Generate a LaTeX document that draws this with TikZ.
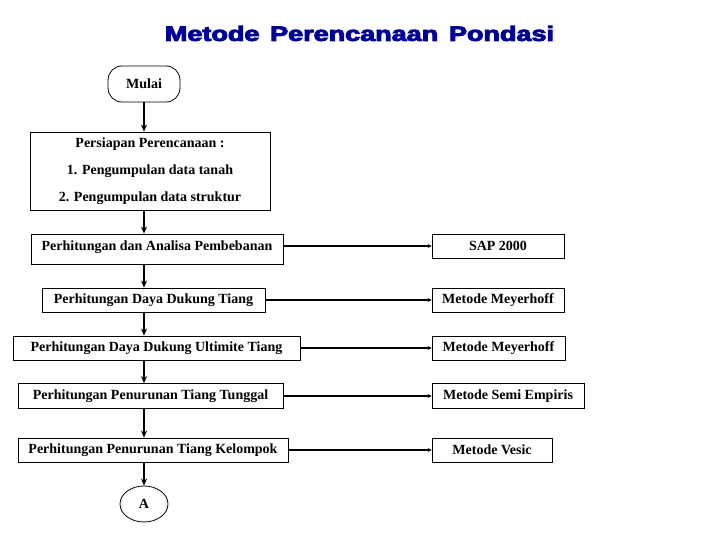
\documentclass[tikz,border=0pt]{standalone}
\usepackage{fontspec}
\usepackage{graphicx}
\setmainfont{Liberation Serif}
\newfontfamily\titlefont[FakeBold=4]{Liberation Sans}
\usetikzlibrary{arrows.meta,shapes.geometric}
\definecolor{titleblue}{RGB}{0,0,153}
\tikzset{
  box/.style={draw, line width=0.8pt, inner sep=0pt, font=\bfseries\fontsize{14}{16}\selectfont},
  vert/.style={line width=1.4pt, -{Stealth[length=7pt,width=6pt]}},
  horz/.style={line width=1.4pt, -{Stealth[length=4pt,width=4pt]}},
}
\begin{document}
\begin{tikzpicture}[x=1pt,y=-1pt]
\useasboundingbox (0,0) rectangle (720,540);
\node[text=titleblue, inner sep=0pt] (title) at (359.5,33.5) {\resizebox{389pt}{15pt}{\titlefont\bfseries Metode\hspace{0.4em}Perencanaan\hspace{0.4em}Pondasi}};
\node[box, rounded corners=14pt, minimum width=72pt, minimum height=36pt] (mulai) at (144,84) {Mulai};
\node[box, minimum width=240pt, minimum height=78pt, align=center, font=\bfseries\fontsize{14}{27}\selectfont] (persiapan) at (150,171) {Persiapan Perencanaan :\\1. Pengumpulan data tanah\\2. Pengumpulan data struktur};
\node[box, minimum width=252pt, minimum height=30pt, text depth=6pt] (analisa) at (157,249) {Perhitungan dan Analisa Pembebanan};
\node[box, minimum width=132pt, minimum height=24pt] (sap) at (498,246) {SAP 2000};
\node[box, minimum width=223pt, minimum height=24pt] (daya) at (153.5,300) {Perhitungan Daya Dukung Tiang};
\node[box, minimum width=132pt, minimum height=24pt] (mey1) at (498,300) {Metode Meyerhoff};
\node[box, minimum width=287pt, minimum height=24pt] (ult) at (156.5,348) {Perhitungan Daya Dukung Ultimite Tiang};
\node[box, minimum width=133pt, minimum height=24pt] (mey2) at (498.5,348) {Metode Meyerhoff};
\node[box, minimum width=265pt, minimum height=25pt] (tung) at (150.5,396) {Perhitungan Penurunan Tiang Tunggal};
\node[box, minimum width=152pt, minimum height=25pt] (semi) at (508,396) {Metode Semi Empiris};
\node[box, minimum width=270pt, minimum height=24pt] (kel) at (153,450) {Perhitungan Penurunan Tiang Kelompok};
\node[box, minimum width=120pt, minimum height=24pt] (vesic) at (492,450) {Metode Vesic};
\node[box, ellipse, minimum width=48pt, minimum height=36pt] (A) at (144,504) {A};
\draw[vert] (mulai.south) -- (mulai.south |- persiapan.north);
\draw[vert] (mulai.south |- persiapan.south) -- (mulai.south |- analisa.north);
\draw[vert] (mulai.south |- analisa.south) -- (mulai.south |- daya.north);
\draw[vert] (mulai.south |- daya.south) -- (mulai.south |- ult.north);
\draw[vert] (mulai.south |- ult.south) -- (mulai.south |- tung.north);
\draw[vert] (mulai.south |- tung.south) -- (mulai.south |- kel.north);
\draw[vert] (mulai.south |- kel.south) -- (A.north);
\draw[horz] (sap.west -| analisa.east) -- (sap.west);
\draw[horz] (daya.east) -- (mey1.west);
\draw[horz] (ult.east) -- (mey2.west);
\draw[horz] (tung.east) -- (semi.west);
\draw[horz] (kel.east) -- (vesic.west);
\end{tikzpicture}
\end{document}
